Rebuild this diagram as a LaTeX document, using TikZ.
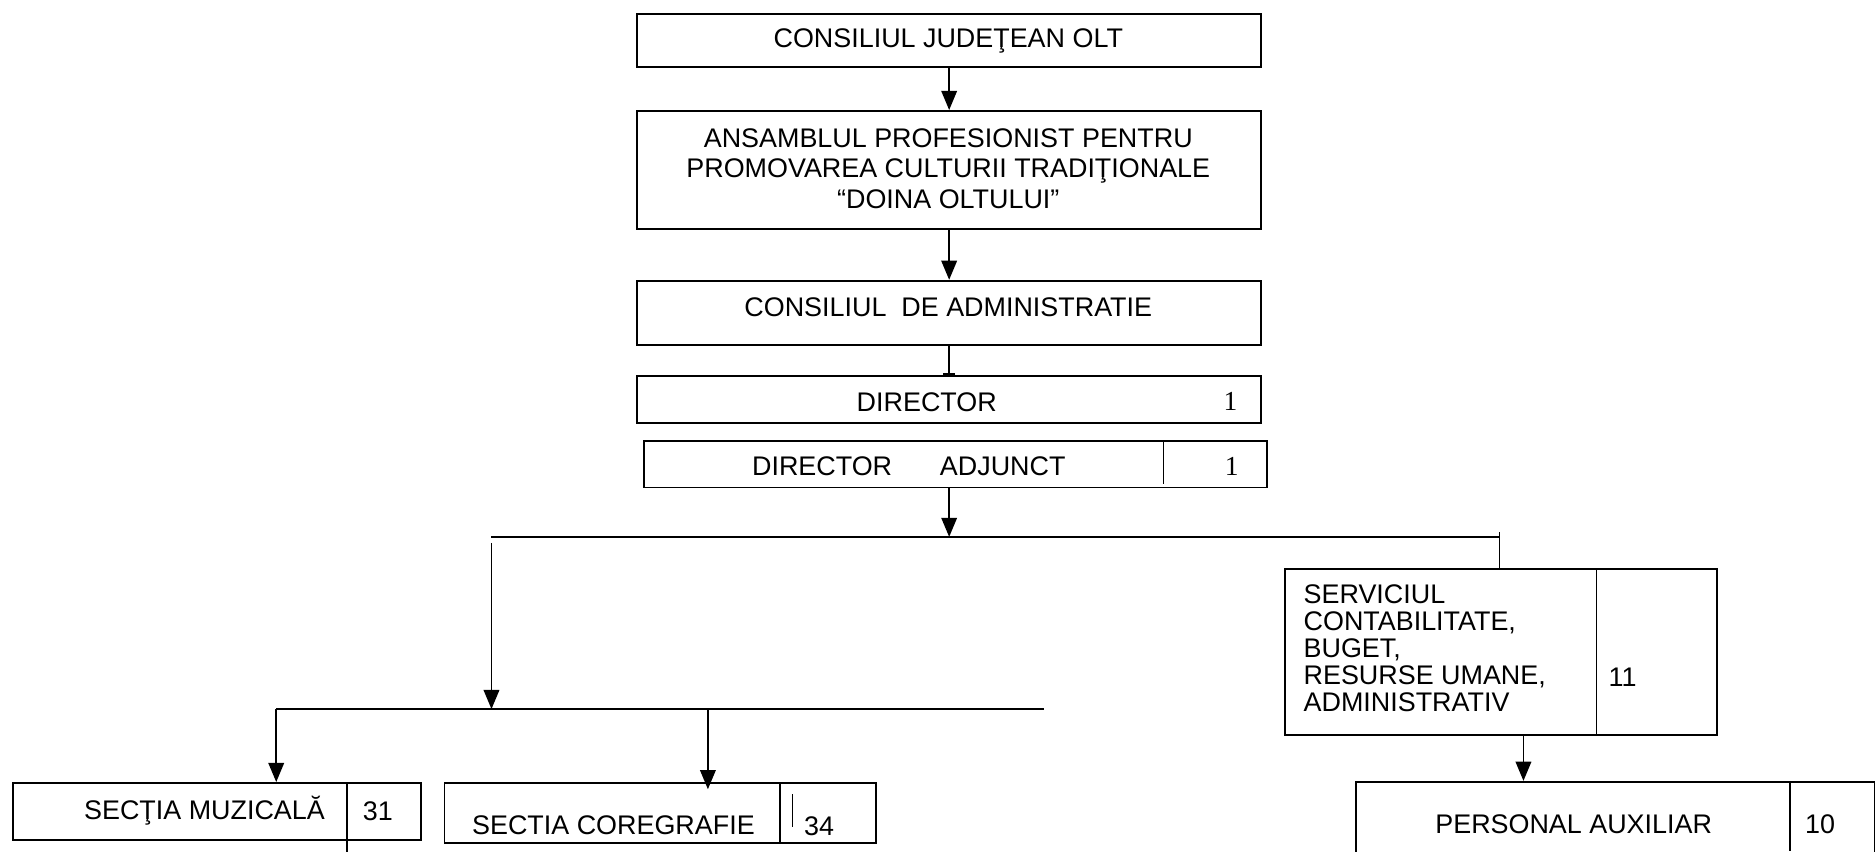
\documentclass[tikz,border=0pt]{standalone}
\usepackage{fontspec}
\setmainfont{Liberation Sans}
\newfontfamily\serifnum{Liberation Serif}
\usetikzlibrary{arrows.meta}
\begin{document}
\begin{tikzpicture}[x=1pt,y=-1pt,
  box/.style={draw, line width=1.5pt, inner sep=0pt, anchor=north west},
  lbl/.style={inner sep=0pt, font=\fontsize{22.5}{25.5}\selectfont},
  num/.style={inner sep=0pt, font=\serifnum\fontsize{23}{25}\selectfont},
  arr/.style={line width=1.5pt, -{Triangle[width=13pt,length=16pt]}},
  ln/.style={line width=1.5pt}]
\useasboundingbox (0,0) rectangle (1568,712);
\clip (0,0) rectangle (1568,712);
% boxes
\node[box, minimum width=522pt, minimum height=44pt] (b1) at (532,11) {};
\node[box, minimum width=522pt, minimum height=99pt] (b2) at (532,92) {};
\node[box, minimum width=522pt, minimum height=54pt] (b3) at (532,234) {};
\node[box, minimum width=522pt, minimum height=39pt] (b4) at (532,314) {};
\node[box, minimum width=521pt, minimum height=39pt] (b5) at (538,368) {};
\node[box, minimum width=361pt, minimum height=139pt] (serv) at (1074,475) {};
\node[box, minimum width=341pt, minimum height=48pt] (sm) at (10,654) {};
\node[box, minimum width=361pt, minimum height=50pt] (sc) at (371,654) {};
\node[box, minimum width=434pt, minimum height=80pt] (pa) at (1133,653) {};
% dividers
\draw[ln] (973,368) -- (973,405);
\draw[ln] (1335,475) -- (1335,614);
\draw[ln] (290,654) -- (290,716);
\draw[ln] (652,654) -- (652,704);
\draw[line width=0.8pt] (663,664) -- (663,692);
\draw[ln] (1497,653) -- (1497,712);
% texts
\node[lbl] (t1) at (793,34) {CONSILIUL JUDEŢEAN OLT};
\node[lbl, align=center] (t2) at (793,141) {ANSAMBLUL PROFESIONIST PENTRU\\PROMOVAREA CULTURII TRADIŢIONALE\\“DOINA OLTULUI”};
\node[lbl] (t3) at (793,257) {CONSILIUL\ \ DE ADMINISTRATIE};
\node[lbl] (t4) at (775,336) {DIRECTOR};
\node[num] (n4) at (1029,336) {1};
\node[lbl] (t5) at (760,390) {DIRECTOR\hspace{40pt}ADJUNCT};
\node[num] (n5) at (1030,390) {1};
\node[lbl, align=left, anchor=west, font=\fontsize{22.5}{22.5}\selectfont] (t6) at (1090,542) {SERVICIUL\\CONTABILITATE,\\BUGET,\\RESURSE UMANE,\\ADMINISTRATIV};
\node[lbl, anchor=west] (n6) at (1345,566) {11};
\node[lbl] (t7) at (171,678) {SECŢIA\ MUZICALĂ};
\node[lbl] (n7) at (316,678) {31};
\node[lbl] (t8) at (513,690) {SECTIA COREGRAFIE};
\node[lbl] (n8) at (685,691) {34};
\node[lbl] (t9) at (1316,689) {PERSONAL AUXILIAR};
\node[lbl] (n9) at (1522,689) {10};
% connector points
\coordinate (h1) at (411,449);
\coordinate (h2) at (1254,449);
\coordinate (h2top) at (1254,445);
\coordinate (v1) at (411,454);
\coordinate (m) at (411,593);
\coordinate (h3) at (231,593);
\coordinate (h4) at (873,593);
\coordinate (c2) at (592,593);
\coordinate (c3) at (1274,614);
% connectors
\draw[arr] (b1.south) -- (b2.north);
\draw[arr] (b2.south) -- (b3.north);
\draw[ln, -{Bar[width=10pt,line width=2pt]}] (b3.south) -- (b4.north);
\draw[arr] (b5.south -| b4.south) -- (b4.south |- h1);
\draw[ln] (h1) -- (h2);
\draw[ln] (h2top) -- (serv.north -| h2top);
\draw[arr] (v1) -- (m);
\draw[ln] (h3) -- (h4);
\draw[arr] (h3) -- (sm.north -| h3);
\draw[arr] (c2) -- ([yshift=-6pt]sc.north -| c2);
\draw[arr] (c3) -- (pa.north -| c3);
\end{tikzpicture}
\end{document}
